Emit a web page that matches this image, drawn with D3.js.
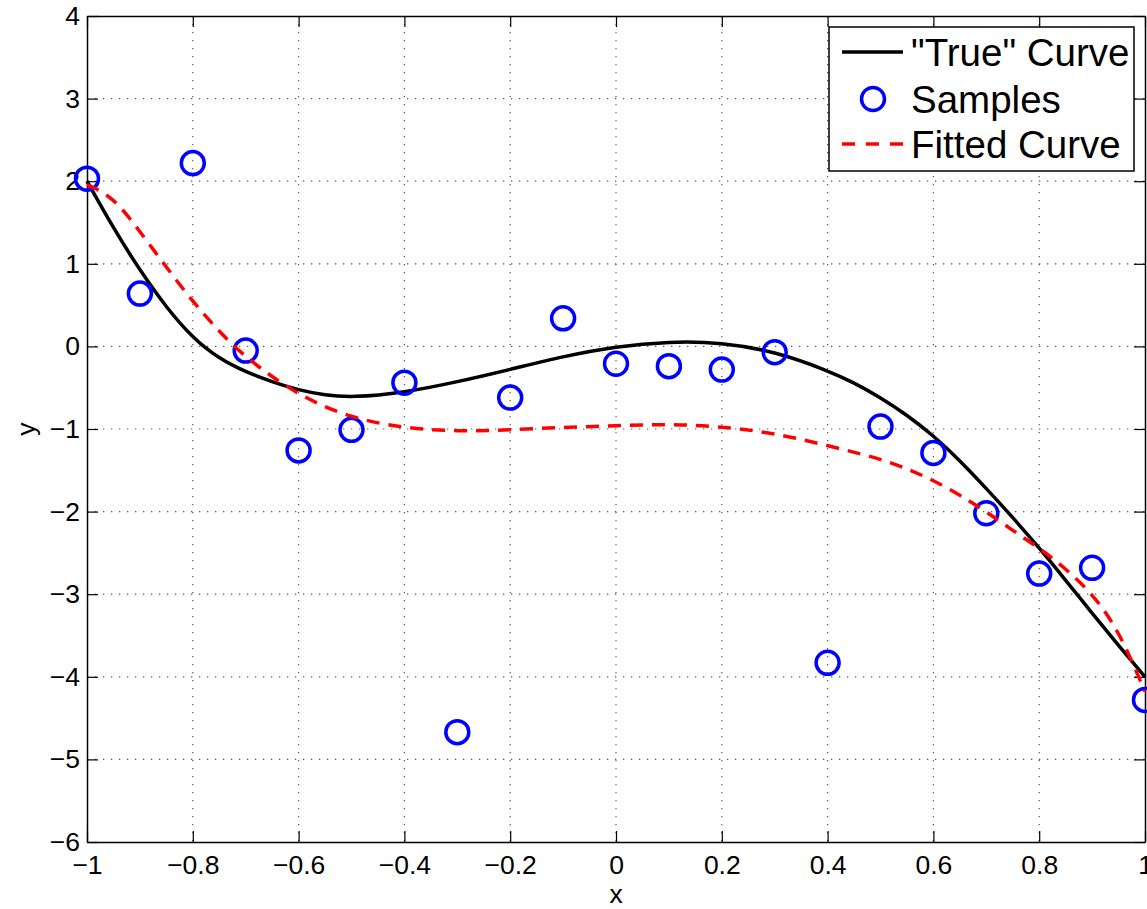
<!DOCTYPE html>
<html>
<head>
<meta charset="utf-8">
<script src="https://cdn.jsdelivr.net/npm/d3@7"></script>
<style>
  body { margin: 0; background: #fff; }
  text { font-family: "Liberation Sans", Arial, sans-serif; fill: #000; }
</style>
</head>
<body>
<svg id="chart" width="1147" height="909"></svg>
<script>
"use strict";
// "True" curve
const trueX = [-1, -0.95, -0.9, -0.85, -0.8, -0.75, -0.7, -0.65, -0.6, -0.55, -0.5, -0.4, -0.3, -0.2, -0.1, 0, 0.1, 0.2, 0.3, 0.4, 0.45, 0.5, 0.55, 0.6, 0.65, 0.7, 0.75, 0.8, 0.85, 0.9, 0.95, 1];
const trueY = [2.0, 1.43, 0.92, 0.47, 0.1, -0.15, -0.31, -0.43, -0.53, -0.59, -0.62, -0.56, -0.43, -0.28, -0.12, 0.0, 0.06, 0.05, -0.06, -0.29, -0.44, -0.62, -0.83, -1.08, -1.38, -1.72, -2.07, -2.44, -2.83, -3.23, -3.62, -4.0];
// samples
const sampleX = [-1, -0.9, -0.8, -0.7, -0.6, -0.5, -0.4, -0.3, -0.2, -0.1, 0, 0.1, 0.2, 0.3, 0.4, 0.5, 0.6, 0.7, 0.8, 0.9, 1];
const sampleY = [2.03, 0.64, 2.22, -0.05, -1.26, -1.01, -0.44, -4.67, -0.62, 0.34, -0.21, -0.24, -0.28, -0.07, -3.83, -0.97, -1.29, -2.02, -2.75, -2.68, -4.28];
// fitted curve
const fitX = [-1, -0.95, -0.9, -0.85, -0.8, -0.75, -0.7, -0.6, -0.5, -0.4, -0.3, -0.2, -0.1, 0, 0.1, 0.2, 0.3, 0.4, 0.5, 0.55, 0.6, 0.65, 0.7, 0.75, 0.8, 0.85, 0.9, 0.95, 1];
const fitY = [1.96, 1.81, 1.39, 0.96, 0.54, 0.18, -0.14, -0.6, -0.87, -0.99, -1.03, -1.01, -0.98, -0.96, -0.94, -0.97, -1.05, -1.2, -1.36, -1.48, -1.62, -1.8, -2.0, -2.23, -2.44, -2.69, -2.99, -3.43, -4.18];

const xTicks = [-1, -0.8, -0.6, -0.4, -0.2, 0, 0.2, 0.4, 0.6, 0.8, 1];
const yTicks = [-6, -5, -4, -3, -2, -1, 0, 1, 2, 3, 4];
const legendLabels = ['"True" Curve', 'Samples', 'Fitted Curve'];

const L = 87, R = 1145, T = 16, B = 842;
const svg = d3.select("#chart");
const x = d3.scaleLinear().domain([-1, 1]).range([L, R]);
const y = d3.scaleLinear().domain([-6, 4]).range([B, T]);

// dotted grid
const grid = svg.append("g").attr("stroke", "#555").attr("stroke-width", 1.2).attr("stroke-dasharray", "1.3,6.7");
grid.selectAll(".gx").data(xTicks.slice(1, -1)).enter().append("line")
  .attr("x1", d => x(d)).attr("x2", d => x(d)).attr("y1", T).attr("y2", B);
grid.selectAll(".gy").data(yTicks.slice(1, -1)).enter().append("line")
  .attr("y1", d => y(d)).attr("y2", d => y(d)).attr("x1", L).attr("x2", R);

const fmt = d => d3.format(".1~f")(d);
// box axes, ticks pointing in
svg.append("g").attr("transform", `translate(0,${B})`)
  .call(d3.axisBottom(x).tickValues(xTicks).tickSizeInner(-11).tickSizeOuter(0).tickPadding(13).tickFormat(fmt))
  .call(g => g.selectAll("text").attr("font-size", 26.5).attr("font-family", "Liberation Sans, Arial"));
svg.append("g").attr("transform", `translate(0,${T})`)
  .call(d3.axisTop(x).tickValues(xTicks).tickSizeInner(-11).tickSizeOuter(0).tickFormat(""));
svg.append("g").attr("transform", `translate(${L},0)`)
  .call(d3.axisLeft(y).tickValues(yTicks).tickSizeInner(-11).tickSizeOuter(0).tickPadding(7).tickFormat(d3.format("~d")))
  .call(g => g.selectAll("text").attr("font-size", 26.5).attr("font-family", "Liberation Sans, Arial"));
svg.append("g").attr("transform", `translate(${R},0)`)
  .call(d3.axisRight(y).tickValues(yTicks).tickSizeInner(-11).tickSizeOuter(0).tickFormat(""));
svg.selectAll(".domain").attr("stroke", "#000").attr("stroke-width", 1.5);
svg.selectAll(".tick line").attr("stroke", "#000").attr("stroke-width", 1.2);

svg.append("text").attr("x", x(0)).attr("y", 903).attr("text-anchor", "middle").attr("font-size", 26.5).text("x");
svg.append("text").attr("transform", "translate(35,429) rotate(-90)").attr("text-anchor", "middle").attr("font-size", 26.5).text("y");

// B-spline through the read points keeps the drawn curves smooth
const line = d3.line().x(d => x(d[0])).y(d => y(d[1])).curve(d3.curveBasis);

svg.append("path").datum(d3.zip(trueX, trueY)).attr("d", line)
  .attr("fill", "none").attr("stroke", "#000").attr("stroke-width", 3.5);

svg.selectAll(".sample").data(d3.zip(sampleX, sampleY)).enter().append("circle")
  .attr("cx", d => x(d[0])).attr("cy", d => y(d[1])).attr("r", 11.5)
  .attr("fill", "none").attr("stroke", "#0000ff").attr("stroke-width", 3.5);

svg.append("path").datum(d3.zip(fitX, fitY)).attr("d", line)
  .attr("fill", "none").attr("stroke", "#ff0000").attr("stroke-width", 3.5).attr("stroke-dasharray", "13,9");

// legend
const lg = svg.append("g");
lg.append("rect").attr("x", 829).attr("y", 27).attr("width", 305).attr("height", 144)
  .attr("fill", "#fff").attr("stroke", "#000").attr("stroke-width", 1.5);
const rowY = [52, 99, 144];
lg.append("line").attr("x1", 842).attr("x2", 903).attr("y1", rowY[0]).attr("y2", rowY[0])
  .attr("stroke", "#000").attr("stroke-width", 3.5);
lg.append("circle").attr("cx", 873).attr("cy", rowY[1]).attr("r", 11.5)
  .attr("fill", "none").attr("stroke", "#0000ff").attr("stroke-width", 3.5);
lg.append("line").attr("x1", 842).attr("x2", 903).attr("y1", rowY[2]).attr("y2", rowY[2])
  .attr("stroke", "#ff0000").attr("stroke-width", 3.5).attr("stroke-dasharray", "13,11");
lg.selectAll(".lt").data(legendLabels).enter().append("text")
  .attr("x", 911).attr("y", (d, i) => rowY[i] + 14).attr("font-size", 38.5).text(d => d);
</script>
</body>
</html>
